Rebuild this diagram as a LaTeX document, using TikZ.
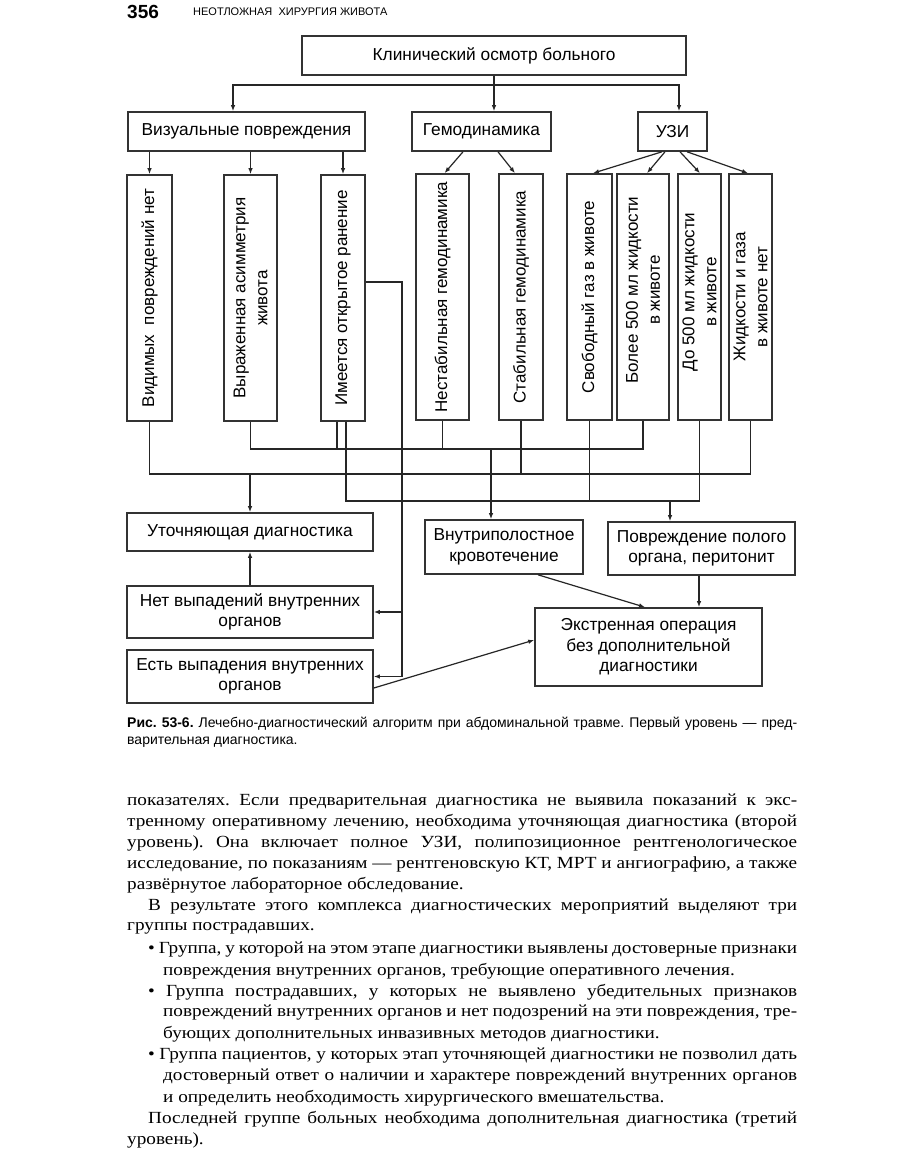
\documentclass[tikz,border=0pt]{standalone}
\usepackage{fontspec}
\setmainfont{Liberation Serif}
\newfontfamily\dsans{Liberation Sans}
\newfontfamily\capsans{Liberation Sans}
\newfontfamily\bodyserif[FakeStretch=1.13]{Liberation Serif}
\usetikzlibrary{arrows.meta,calc}
\frenchspacing
\begin{document}
\begin{tikzpicture}[x=1pt,y=-1pt,
  box/.style={draw=black!80, line width=1.6pt, fill=white, inner sep=2pt,
    font=\dsans\fontsize{17.3}{20.5}\selectfont, align=center},
  vb/.style={draw=black!80, line width=1.6pt, fill=white, minimum height=246pt},
  vt/.style={rotate=90, inner sep=0pt, font=\dsans\fontsize{17}{22}\selectfont, align=center},
  conn/.style={draw=black!85, line width=1.2pt},
  arr/.style={conn, -{Latex[length=6pt,width=4.5pt]}},
  bl/.style={anchor=west, inner sep=0pt, font=\bodyserif\fontsize{17}{20}\selectfont},
  cl/.style={anchor=west, inner sep=0pt, font=\capsans\fontsize{14}{16}\selectfont}
]
\useasboundingbox (0,0) rectangle (910,1155);
\fill[white] (0,0) rectangle (910,1155);

% header
\node[anchor=west, inner sep=0pt, font=\capsans\bfseries\fontsize{19}{19}\selectfont] (pg) at (127,12) {356};
\node[anchor=west, inner sep=0pt, font=\capsans\fontsize{11}{11}\selectfont] (hd) at (193,12) {НЕОТЛОЖНАЯ\ \ ХИРУРГИЯ ЖИВОТА};

% top level
\node[box, minimum width=384pt, minimum height=39pt] (top) at (494,55.5) {Клинический осмотр больного};
\node[box, minimum width=237pt, minimum height=39pt] (vis) at (246.5,131.5) {Визуальные повреждения};
\node[box, minimum width=139pt, minimum height=39pt] (gem) at (481.5,131.5) {Гемодинамика};
\node[box, minimum width=69pt, minimum height=39pt] (uzi) at (672.5,131.5) {УЗИ};

% vertical boxes
\node[vb, minimum width=45pt] (b1) at (149.5,298) {};
\node[vb, minimum width=53pt] (b2) at (250.5,298) {};
\node[vb, minimum width=44pt] (b3) at (343,298) {};
\node[vb, minimum width=53pt] (b4) at (442.5,297) {};
\node[vb, minimum width=44pt] (b5) at (521,297) {};
\node[vb, minimum width=45pt] (b6) at (589.5,297) {};
\node[vb, minimum width=52pt] (b7) at (643,297) {};
\node[vb, minimum width=43pt] (b8) at (699.5,297) {};
\node[vb, minimum width=43pt] (b9) at (750.5,297) {};
\node[vt] (t1) at (b1) {Видимых\ \ повреждений нет};
\node[vt] (t2) at (b2) {Выраженная асимметрия\\живота};
\node[vt] (t3) at (b3) {Имеется открытое ранение};
\node[vt] (t4) at (b4) {Нестабильная гемодинамика};
\node[vt] (t5) at (b5) {Стабильная гемодинамика};
\node[vt] (t6) at (b6) {Свободный газ в животе};
\node[vt] (t7) at ($(b7)+(0,-7)$) {Более 500 мл жидкости\\в животе};
\node[vt] (t8) at ($(b8)+(0,-5)$) {До 500 мл жидкости\\в животе};
\node[vt] (t9) at (b9) {Жидкости и газа\\в животе нет};

% lower boxes
\node[box, minimum width=246pt, minimum height=38pt] (utoch) at (250,532) {Уточняющая диагностика};
\node[box, minimum width=246pt, minimum height=52pt] (net) at (250,612) {Нет выпадений внутренних\\органов};
\node[box, minimum width=246pt, minimum height=53pt] (est) at (250,676.5) {Есть выпадения внутренних\\органов};
\node[box, minimum width=158pt, minimum height=54pt] (vnutr) at (504,547) {Внутриполостное\\кровотечение};
\node[box, minimum width=187pt, minimum height=53pt] (povr) at (701.5,548.5) {Повреждение полого\\органа, перитонит};
\node[box, minimum width=227pt, minimum height=78pt] (ekstr) at (648.5,647) {Экстренная операция\\без дополнительной\\диагностики};

% rails
\coordinate (yT) at (0,85);
\coordinate (yA) at (0,474);
\coordinate (yB) at (0,449);
\coordinate (yC) at (0,501);
\coordinate (xR) at (402,0);

% top connectors
\draw[arr] (top.south) -- (top.south |- gem.north);
\draw[arr] (top.south |- yT) -| ($(vis.north)+(-13.5,0)$);
\draw[arr] (top.south |- yT) -| ($(uzi.north)+(6.5,0)$);
\draw[arr] (vis.south -| b1.north) -- (b1.north);
\draw[arr] (vis.south -| b2.north) -- (b2.north);
\draw[arr] (vis.south -| b3.north) -- (b3.north);
\draw[arr] ($(gem.south)+(-18.5,0)$) -- ($(b4.north)+(2,0)$);
\draw[arr] ($(gem.south)+(16.5,0)$) -- ($(b5.north)+(-6,0)$);
\draw[arr] ($(uzi.south)+(-10.5,0)$) -- ($(b6.north)+(3.5,0)$);
\draw[arr] ($(uzi.south)+(-7.5,0)$) -- ($(b7.north)+(4,0)$);
\draw[arr] ($(uzi.south)+(7.5,0)$) -- ($(b8.north)+(0.5,0)$);
\draw[arr] ($(uzi.south)+(14.5,0)$) -- ($(b9.north)+(-2.5,0)$);

% rail A -> utoch
\draw[conn] (b1.south) |- (b9.south |- yA) -- (b9.south);
\draw[conn] (b5.south) -- (b5.south |- yA);
\draw[arr] (utoch.north |- yA) -- (utoch.north);

% rail B -> vnutr
\coordinate (b3l) at ($(b3.south)+(-6,0)$);
\coordinate (vin) at ($(vnutr.north)+(-13,0)$);
\draw[conn] (b2.south) |- (b7.south |- yB) -- (b7.south);
\draw[conn] (b3l) -- (b3l |- yB);
\draw[conn] (b4.south) -- (b4.south |- yB);
\draw[arr] (vin |- yB) -- (vin);

% rail C -> povr
\coordinate (b3r) at ($(b3.south)+(3,0)$);
\coordinate (pin) at ($(povr.north)+(-31.5,0)$);
\draw[conn] (b3r) |- (b8.south |- yC) -- (b8.south);
\draw[conn] (b6.south) -- (b6.south |- yC);
\draw[arr] (pin |- yC) -- (pin);

% open wound -> prolapse boxes
\coordinate (b3e) at ($(b3.east)+(0,-16)$);
\draw[arr] (b3e) -| (xR |- est.east) -- (est.east);
\draw[arr] (xR |- net.east) -- (net.east);

% remaining
\draw[arr] (net.north) -- (utoch.south);
\draw[arr] ($(vnutr.south)+(34,0)$) -- ($(ekstr.north)+(-3.5,0)$);
\coordinate (pout) at ($(povr.south)+(-2.5,0)$);
\draw[arr] (pout) -- (pout |- ekstr.north);
\draw[arr] ($(est.east)+(0,11.5)$) -- ($(ekstr.west)+(0,-7)$);

% caption
\node[cl] (c1) at (127,724) {\makebox[670pt][s]{\bfseries Рис. 53-6.\mdseries\ Лечебно-диагностический алгоритм при абдоминальной травме. Первый уровень — пред-}};
\node[cl] (c2) at (127,742) {варительная диагностика.};

% body text
\node[bl] (l1) at (127,801) {\makebox[670pt][s]{показателях. Если предварительная диагностика не выявила показаний к экс-}};
\node[bl] (l2) at (127,822) {\makebox[670pt][s]{тренному оперативному лечению, необходима уточняющая диагностика (второй}};
\node[bl] (l3) at (127,843) {\makebox[670pt][s]{уровень). Она включает полное УЗИ, полипозиционное рентгенологическое}};
\node[bl] (l4) at (127,864) {\makebox[670pt][s]{исследование, по показаниям — рентгеновскую КТ, МРТ и ангиографию, а также}};
\node[bl] (l5) at (127,885) {развёрнутое лабораторное обследование.};
\node[bl] (l6) at (148,907) {\makebox[649pt][s]{В результате этого комплекса диагностических мероприятий выделяют три}};
\node[bl] (l7) at (127,928) {группы пострадавших.};
\node[bl] (l8) at (148,950) {\makebox[649pt][s]{• Группа, у которой на этом этапе диагностики выявлены достоверные признаки}};
\node[bl] (l9) at (163,971) {повреждения внутренних органов, требующие оперативного лечения.};
\node[bl] (l10) at (148,992) {\makebox[649pt][s]{• Группа пострадавших, у которых не выявлено убедительных признаков}};
\node[bl] (l11) at (163,1013) {\makebox[634pt][s]{повреждений внутренних органов и нет подозрений на эти повреждения, тре-}};
\node[bl] (l12) at (163,1034) {бующих дополнительных инвазивных методов диагностики.};
\node[bl] (l13) at (148,1056) {\makebox[649pt][s]{• Группа пациентов, у которых этап уточняющей диагностики не позволил дать}};
\node[bl] (l14) at (163,1077) {\makebox[634pt][s]{достоверный ответ о наличии и характере повреждений внутренних органов}};
\node[bl] (l15) at (163,1098) {и определить необходимость хирургического вмешательства.};
\node[bl] (l16) at (148,1119) {\makebox[649pt][s]{Последней группе больных необходима дополнительная диагностика (третий}};
\node[bl] (l17) at (127,1140) {уровень).};
\end{tikzpicture}
\end{document}
